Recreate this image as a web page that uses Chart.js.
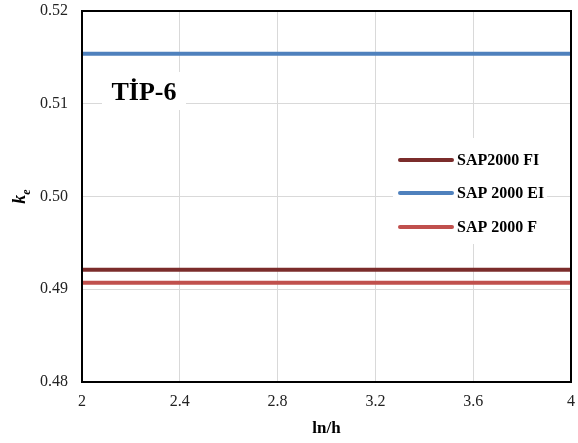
<!DOCTYPE html>
<html>
<head>
<meta charset="utf-8">
<script src="https://cdn.jsdelivr.net/npm/chart.js@4.4.1/dist/chart.umd.min.js"></script>
<style>
  html, body { margin: 0; padding: 0; background: #fff; }
  #wrap { width: 578px; height: 443px; position: relative; }
</style>
</head>
<body>
<div id="wrap"><canvas id="c" width="578" height="443"></canvas></div>
<script>
// Data
const xRange = [2, 4];
const xTicks = [2, 2.4, 2.8, 3.2, 3.6, 4];
const yTicks = [0.48, 0.49, 0.50, 0.51, 0.52];
const seriesNames = ['SAP2000 FI', 'SAP 2000 EI', 'SAP 2000 F'];
const seriesFI = [0.4921, 0.4921];
const seriesEI = [0.5154, 0.5154];
const seriesF = [0.4907, 0.4907];
const seriesColors = ['#7B2C2B', '#4F81BD', '#C0504D'];
const panelLabel = 'TİP-6';
const yTitleMain = 'k';
const yTitleSub = 'e';

const serif = "'Liberation Serif', 'Times New Roman', serif";

function pts(vals) { return xRange.map((x, i) => ({ x: x, y: vals[i] })); }

const overlayPlugin = {
  id: 'overlay',
  afterDatasetsDraw(chart) {
    const ctx = chart.ctx;
    const a = chart.chartArea;
    ctx.save();
    // panel label box
    ctx.fillStyle = '#fff';
    ctx.fillRect(102, 72, 84, 38);
    ctx.font = "bold 26px " + serif;
    ctx.fillStyle = '#000';
    ctx.textAlign = 'center';
    ctx.textBaseline = 'alphabetic';
    ctx.fillText(panelLabel, 144, 100);
    // legend box
    ctx.fillStyle = '#fff';
    ctx.fillRect(393, 138, 154, 106);
    const rows = [160, 193, 227];
    chart.data.datasets.forEach((ds, i) => {
      ctx.strokeStyle = ds.borderColor;
      ctx.lineWidth = 4;
      ctx.lineCap = 'round';
      ctx.beginPath();
      ctx.moveTo(400, rows[i]);
      ctx.lineTo(452, rows[i]);
      ctx.stroke();
      ctx.font = "bold 16px " + serif;
      ctx.fillStyle = '#000';
      ctx.textAlign = 'left';
      ctx.textBaseline = 'middle';
      ctx.fillText(ds.label, 457, rows[i] + 1);
    });
    // plot border
    ctx.strokeStyle = '#000';
    ctx.lineWidth = 2;
    ctx.lineCap = 'butt';
    ctx.strokeRect(a.left, a.top, a.right - a.left, a.bottom - a.top);
    // y-axis title k_e (rotated)
    const cy = (a.top + a.bottom) / 2;
    ctx.translate(21, cy);
    ctx.rotate(-Math.PI / 2);
    ctx.fillStyle = '#000';
    ctx.textBaseline = 'alphabetic';
    ctx.textAlign = 'left';
    ctx.font = "italic bold 18px " + serif;
    const wk = ctx.measureText(yTitleMain).width;
    ctx.font = "italic bold 12px " + serif;
    const we = ctx.measureText(yTitleSub).width;
    const x0 = -(wk + we) / 2;
    ctx.font = "italic bold 18px " + serif;
    ctx.fillText(yTitleMain, x0, 4);
    ctx.font = "italic bold 12px " + serif;
    ctx.fillText(yTitleSub, x0 + wk, 9);
    ctx.restore();
  }
};

new Chart(document.getElementById('c'), {
  type: 'line',
  data: {
    datasets: [
      { label: seriesNames[0], data: pts(seriesFI), borderColor: seriesColors[0], borderWidth: 4, pointRadius: 0 },
      { label: seriesNames[1], data: pts(seriesEI), borderColor: seriesColors[1], borderWidth: 4, pointRadius: 0 },
      { label: seriesNames[2], data: pts(seriesF), borderColor: seriesColors[2], borderWidth: 4, pointRadius: 0 }
    ]
  },
  options: {
    responsive: false,
    animation: false,
    layout: { padding: { top: 11, right: 7, left: 0, bottom: 0 } },
    plugins: { legend: { display: false }, tooltip: { enabled: false } },
    scales: {
      x: {
        type: 'linear',
        min: 2, max: 4,
        afterBuildTicks(s) { s.ticks = xTicks.map(v => ({ value: v })); },
        afterFit(s) { s.height = 61; s.paddingLeft = 0; s.paddingRight = 0; },
        ticks: {
          font: { family: serif, size: 16 }, color: '#222', padding: 10,
          maxRotation: 0,
          callback: v => String(v)
        },
        grid: { color: '#d9d9d9', lineWidth: 1, drawTicks: false },
        border: { display: false },
        title: { display: true, text: 'ln/h', font: { family: serif, size: 17, weight: 'bold' }, color: '#000', padding: { top: 1 } }
      },
      y: {
        min: 0.48, max: 0.52,
        afterBuildTicks(s) { s.ticks = yTicks.map(v => ({ value: v })); },
        afterFit(s) { s.width = 82; s.paddingTop = 0; s.paddingBottom = 0; },
        ticks: {
          font: { family: serif, size: 16 }, color: '#222', padding: 14,
          callback: v => v.toFixed(2)
        },
        grid: { color: '#d9d9d9', lineWidth: 1, drawTicks: false },
        border: { display: false },
        title: { display: false }
      }
    }
  },
  plugins: [overlayPlugin]
});
</script>
</body>
</html>
